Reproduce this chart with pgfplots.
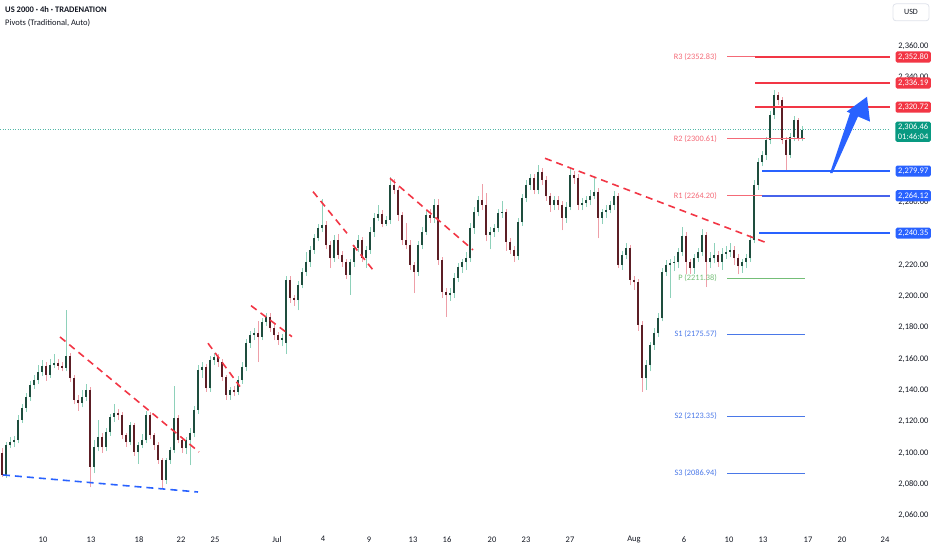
\documentclass[border=0pt]{standalone}
\usepackage{pgfplots}
\pgfplotsset{compat=1.18}
\usepackage{pgfplotstable}
\usepackage{fontspec}
\setmainfont{Carlito}
\definecolor{gbody}{HTML}{1E4D3E}
\definecolor{gwick}{HTML}{8ED1BA}
\definecolor{rbody}{HTML}{5C1E25}
\definecolor{rwick}{HTML}{EE9FA8}
\definecolor{tvred}{HTML}{F23645}
\definecolor{tvblue}{HTML}{2962FF}
\definecolor{tvgreen}{HTML}{089981}
\definecolor{pivr}{HTML}{F46A77}
\definecolor{pivp}{HTML}{74BE77}
\definecolor{pivs}{HTML}{4A78E8}
\definecolor{txt}{HTML}{131722}
\definecolor{bordergray}{HTML}{E0E3EB}

\pgfplotstableread{
x o h l c
6 2085.9 2107 2084 2105.0
10 2105.0 2110 2103 2106.9
14 2106.9 2111 2104 2108.2
18 2108.2 2124 2106 2121.0
22 2121.0 2131 2119 2128.7
26 2128.7 2138 2126 2135.7
30 2135.7 2146 2133 2143.3
34 2143.3 2150 2141 2146.5
38 2146.5 2156 2144 2151.6
42 2151.6 2159 2149 2155.5
50 2149.7 2160 2148 2156.1
54 2156.1 2163 2154 2157.4
66 2154.2 2191 2152 2161.9
82 2131.8 2140 2129 2135.7
86 2135.7 2144 2133 2140.2
94 2091.0 2108 2087 2103.7
98 2103.7 2121 2101 2110.1
106 2103.7 2116 2101 2113.3
110 2113.3 2125 2111 2122.9
114 2122.9 2131 2120 2125.5
130 2106.9 2120 2105 2117.8
138 2100.6 2107 2093 2105.0
142 2105.0 2112 2103 2108.2
146 2108.2 2127 2106 2124.2
166 2082.7 2097 2080 2095.4
170 2095.4 2104 2093 2101.8
174 2101.8 2143 2100 2122.3
186 2103.1 2110 2099 2108.2
190 2108.2 2116 2092 2112.7
194 2112.7 2130 2110 2127.4
198 2127.4 2156 2125 2152.9
202 2152.9 2158 2148 2154.8
210 2141.4 2162 2139 2159.3
214 2159.3 2164 2156 2161.2
230 2137.0 2142 2134 2140.2
238 2138.9 2149 2137 2146.5
242 2146.5 2158 2144 2154.8
246 2154.8 2173 2152 2170.2
250 2170.2 2178 2167 2175.3
254 2175.3 2180 2172 2176.5
262 2174.0 2186 2172 2183.6
266 2183.6 2189 2181 2186.8
282 2172.1 2176 2168 2173.4
286 2170.2 2213 2163 2210.4
298 2197.6 2210 2191 2207.2
302 2207.2 2218 2205 2215.5
306 2215.5 2228 2213 2221.9
310 2221.9 2232 2219 2229.6
314 2229.6 2240 2227 2237.2
318 2237.2 2246 2235 2243.6
322 2243.6 2262 2241 2245.5
334 2224.4 2239 2222 2235.9
350 2213.6 2224 2201 2221.9
354 2221.9 2233 2219 2230.8
358 2230.8 2239 2228 2235.9
366 2224.4 2232 2218 2229.6
370 2229.6 2244 2227 2241.0
374 2241.0 2253 2238 2250.0
378 2250.0 2258 2248 2252.5
386 2246.2 2251 2245 2248.7
390 2248.7 2276 2246 2271.1
418 2215.5 2235 2213 2232.7
422 2232.7 2244 2230 2241.0
426 2241.0 2255 2239 2251.9
434 2250.0 2262 2247 2258.3
450 2200.8 2205 2197 2202.1
454 2202.1 2215 2199 2211.7
458 2211.7 2221 2209 2218.7
462 2218.7 2224 2215 2221.9
466 2221.9 2228 2217 2224.4
470 2224.4 2247 2222 2243.6
474 2243.6 2257 2240 2253.8
478 2253.8 2264 2251 2261.5
490 2239.1 2244 2230 2241.0
494 2241.0 2246 2238 2243.6
498 2243.6 2256 2241 2253.2
502 2253.2 2261 2250 2253.8
518 2225.7 2250 2223 2247.4
522 2247.4 2265 2245 2262.8
526 2262.8 2274 2260 2271.1
530 2271.1 2278 2268 2275.5
538 2267.9 2284 2265 2279.4
554 2258.3 2264 2255 2261.5
566 2250.0 2260 2247 2257.0
570 2257.0 2281 2255 2277.4
582 2258.3 2263 2255 2259.6
586 2259.6 2264 2257 2261.5
590 2261.5 2268 2258 2264.0
594 2264.0 2276 2262 2266.6
602 2250.0 2256 2246 2253.8
606 2253.8 2258 2250 2255.1
610 2255.1 2261 2253 2258.3
614 2258.3 2267 2255 2264.0
622 2220.0 2229 2217 2226.4
626 2226.4 2234 2224 2230.8
646 2147.8 2159 2140 2156.1
650 2156.1 2171 2152 2168.9
654 2168.9 2180 2166 2176.5
658 2176.5 2189 2174 2186.1
662 2186.1 2218 2184 2215.5
666 2215.5 2223 2213 2220.0
670 2220.0 2224 2199 2221.3
674 2221.3 2226 2216 2221.9
678 2221.9 2231 2218 2228.3
682 2228.3 2244 2226 2238.5
694 2218.1 2227 2214 2224.4
698 2224.4 2231 2222 2228.3
702 2228.3 2243 2226 2239.1
710 2221.9 2228 2218 2224.4
714 2224.4 2234 2221 2226.4
722 2221.9 2231 2217 2227.0
726 2227.0 2232 2224 2228.3
730 2228.3 2234 2225 2229.6
742 2219.3 2224 2215 2221.9
746 2221.9 2227 2218 2224.4
750 2224.4 2239 2222 2235.9
754 2235.9 2274 2234 2271.1
758 2271.1 2288 2268 2285.7
762 2285.7 2293 2283 2290.2
766 2290.2 2302 2287 2299.8
770 2299.8 2318 2297 2315.8
774 2315.8 2331.7 2313 2328.5
790 2290.2 2304 2288 2301.7
794 2301.7 2315 2299 2312.6
802 2301.1 2309 2299 2306.46
}\up

\pgfplotstableread{
x o h l c
2 2099.9 2103 2084.5 2085.9
46 2155.5 2158 2146 2149.7
58 2157.4 2160 2153 2155.5
62 2155.5 2158 2152 2154.2
70 2161.9 2164 2145 2147.8
74 2147.8 2150 2131 2133.8
78 2133.8 2137 2127 2131.8
90 2140.2 2142 2078 2091.0
102 2110.1 2113 2100 2103.7
118 2125.5 2128 2121 2124.2
122 2124.2 2126 2109 2111.4
126 2111.4 2113 2104 2106.9
134 2117.8 2119 2098 2100.6
150 2124.2 2126 2109 2111.4
154 2111.4 2113 2102 2105.0
158 2105.0 2107 2093 2095.4
162 2095.4 2097 2077.6 2082.7
178 2122.3 2124 2106 2108.2
182 2108.2 2110 2100 2103.1
206 2154.8 2157 2139 2141.4
218 2161.2 2163 2155 2158.0
222 2158.0 2160 2146 2148.5
226 2148.5 2150 2134 2137.0
234 2140.2 2143 2136 2138.9
258 2176.5 2184 2158 2174.0
270 2186.8 2189 2177 2179.7
274 2179.7 2182 2172 2175.3
278 2175.3 2177 2169 2172.1
290 2210.4 2213 2196 2198.9
294 2198.9 2201 2194 2197.6
326 2245.5 2248 2230 2232.7
330 2232.7 2235 2218 2224.4
338 2235.9 2240 2224 2226.4
342 2226.4 2229 2219 2221.9
346 2221.9 2224 2211 2213.6
362 2235.9 2238 2222 2224.4
382 2252.5 2255 2244 2246.2
394 2271.1 2275 2265 2267.9
398 2267.9 2270 2248 2251.9
402 2251.9 2254 2233 2235.9
406 2235.9 2247 2230 2232.7
410 2232.7 2236 2217 2220.0
414 2220.0 2222 2202 2215.5
430 2251.9 2256 2247 2250.0
438 2258.3 2262 2220 2223.2
442 2223.2 2225 2199 2202.7
446 2202.7 2205 2187 2200.8
482 2261.5 2272 2255 2258.3
486 2258.3 2266 2235 2239.1
506 2253.8 2256 2229 2234.7
510 2234.7 2237 2227 2229.6
514 2229.6 2232 2222 2225.7
534 2275.5 2278 2265 2267.9
542 2279.4 2282 2271 2274.3
546 2274.3 2277 2261 2264.0
550 2264.0 2266 2254 2258.3
558 2261.5 2264 2255 2258.3
562 2258.3 2261 2242 2250.0
574 2277.4 2280 2272 2275.5
578 2275.5 2278 2255 2258.3
598 2266.6 2269 2237 2250.0
618 2264.0 2266 2218 2220.0
630 2230.8 2233 2207 2210.4
634 2210.4 2213 2204 2209.1
638 2209.1 2211 2178 2181.7
642 2181.7 2184 2138.9 2147.8
686 2238.5 2241 2214 2221.9
690 2221.9 2224 2214 2218.1
706 2239.1 2241 2205.9 2221.9
718 2226.4 2229 2219 2221.9
734 2229.6 2232 2220 2224.4
738 2224.4 2227 2214 2219.3
778 2328.5 2330.5 2322 2325.3
782 2325.3 2327 2297 2299.8
786 2299.8 2302 2279.4 2290.2
798 2312.6 2314 2299 2301.1
}\down

\begin{document}
\begin{tikzpicture}
\path[use as bounding box] (0pt,-25pt) rectangle (932pt,525pt);
\begin{axis}[
  at={(0pt,0pt)}, anchor=south west,
  scale only axis, width=888pt, height=525pt,
  xmin=0, xmax=888, ymin=2053.93, ymax=2389.18,
  clip=false,
  axis line style={draw=none},
  major tick length=0pt,
  xtick={43,91,139,181,215,277,323,369,413,447,492,526,570,634,684,729,763,808,842,885},
  xticklabels={10,13,18,22,25,Jul,4,9,13,16,20,23,27,Aug,6,10,13,17,20,24},
  ytick={2060,2080,2100,2120,2140,2160,2180,2200,2220,2260,2340,2360},
  yticklabels={{2,060.00},{2,080.00},{2,100.00},{2,120.00},{2,140.00},{2,160.00},{2,180.00},{2,200.00},{2,220.00},{2,260.00},{2,340.00},{2,360.00}},
  yticklabel pos=right,
  yticklabel style={anchor=east, xshift=44pt},
  xticklabel style={yshift=-8pt},
  ticklabel style={font=\fontsize{8.5}{10}\selectfont, text=txt},
  /pgf/number format/assume math mode=true,
  candle/.style={draw=none, no markers, forget plot, error bars/y dir=plus, error bars/y explicit, error bars/error mark=none},
]
% current price dotted line
\addplot[tvgreen!70, line width=0.6pt, dash pattern=on 1pt off 1.5pt] coordinates {(0,2306.46) (888,2306.46)};
% candles: wicks
\addplot[candle, error bars/error bar style={draw=gwick, line width=0.7pt, solid}]
  table[x=x, y=l, y error plus expr=\thisrow{h}-\thisrow{l}] {\up};
\addplot[candle, error bars/error bar style={draw=rwick, line width=0.7pt, solid}]
  table[x=x, y=l, y error plus expr=\thisrow{h}-\thisrow{l}] {\down};
% bodies
\addplot[candle, error bars/error bar style={draw=gbody, line width=2.6pt, solid}]
  table[x=x, y=o, y error plus expr=\thisrow{c}-\thisrow{o}] {\up};
\addplot[candle, error bars/error bar style={draw=rbody, line width=2.6pt, solid}]
  table[x=x, y=c, y error plus expr=\thisrow{o}-\thisrow{c}] {\down};
% trend lines
\addplot[tvred, line width=1.6pt, dash pattern=on 7pt off 5pt] coordinates {(60,2174.0) (199,2100.6)};
\addplot[tvred, line width=1.6pt, dash pattern=on 7pt off 5pt] coordinates {(208,2170.0) (240,2142.3)};
\addplot[tvred, line width=1.6pt, dash pattern=on 7pt off 5pt] coordinates {(251,2194.0) (292,2174.2)};
\addplot[tvred, line width=1.6pt, dash pattern=on 7pt off 5pt] coordinates {(313,2266.8) (347,2240.2)};
\addplot[tvred, line width=1.6pt, dash pattern=on 7pt off 5pt] coordinates {(353,2232.7) (373,2216.8)};
\addplot[tvred, line width=1.6pt, dash pattern=on 7pt off 5pt] coordinates {(390,2275.3) (473,2229.6)};
\addplot[tvred, line width=1.6pt, dash pattern=on 7pt off 5pt] coordinates {(545,2288.1) (768,2233.8)};
\addplot[tvblue, line width=1.6pt, dash pattern=on 7pt off 5pt] coordinates {(3,2085.9) (198,2075.0)};
% pivot lines
\addplot[pivr, line width=0.9pt] coordinates {(727,2352.83) (805,2352.83)};
\addplot[pivr, line width=0.9pt] coordinates {(727,2300.61) (805,2300.61)};
\addplot[pivr, line width=0.9pt] coordinates {(727,2264.20) (805,2264.20)};
\addplot[pivp, line width=0.9pt] coordinates {(727,2211.38) (805,2211.38)};
\addplot[pivs, line width=0.9pt] coordinates {(727,2175.57) (805,2175.57)};
\addplot[pivs, line width=0.9pt] coordinates {(727,2123.35) (805,2123.35)};
\addplot[pivs, line width=0.9pt] coordinates {(727,2086.94) (805,2086.94)};
% key levels
\addplot[tvred, line width=1.8pt] coordinates {(755,2352.80) (890,2352.80)};
\addplot[tvred, line width=1.8pt] coordinates {(755,2336.19) (890,2336.19)};
\addplot[tvred, line width=1.8pt] coordinates {(755,2320.72) (890,2320.72)};
\addplot[tvblue, line width=1.8pt] coordinates {(762,2279.97) (890,2279.97)};
\addplot[tvblue!85!pivr, line width=1.8pt] coordinates {(762,2264.12) (890,2264.12)};
\addplot[tvblue, line width=1.8pt] coordinates {(759,2240.35) (890,2240.35)};
% arrow
\fill[tvblue] (axis cs:830,2278.7) -- (axis cs:850,2317.0) -- (axis cs:846.7,2317.9) -- (axis cs:867,2327.4) -- (axis cs:870,2311.5) -- (axis cs:858,2314.8) -- (axis cs:832.5,2278.7) -- cycle;
% pivot labels
\begin{scope}[every node/.style={anchor=east, font=\fontsize{8.3}{9.5}\selectfont, inner sep=1pt}]
\node[text=pivr] at (axis cs:718,2352.83) {R3 (2352.83)};
\node[text=pivr] at (axis cs:718,2300.61) {R2 (2300.61)};
\node[text=pivr] at (axis cs:718,2264.20) {R1 (2264.20)};
\node[text=pivp] at (axis cs:718,2211.38) {P (2211.38)};
\node[text=pivs] at (axis cs:718,2175.57) {S1 (2175.57)};
\node[text=pivs] at (axis cs:718,2123.35) {S2 (2123.35)};
\node[text=pivs] at (axis cs:718,2086.94) {S3 (2086.94)};
\end{scope}
% price boxes
\begin{scope}[every node/.style={anchor=east, text=white, font=\fontsize{8.5}{10}\selectfont, inner xsep=2.5pt, inner ysep=2.2pt, rounded corners=1.5pt}]
\node[fill=tvred] at (axis cs:931,2352.80) {2,352.80};
\node[fill=tvred] at (axis cs:931,2336.19) {2,336.19};
\node[fill=tvred] at (axis cs:931,2320.72) {2,320.72};
\node[fill=tvblue] at (axis cs:931,2279.97) {2,279.97};
\node[fill=tvblue] at (axis cs:931,2264.12) {2,264.12};
\node[fill=tvblue] at (axis cs:931,2240.35) {2,240.35};
\node[fill=tvgreen, anchor=north east, align=center] at (axis cs:931,2311.6) {2,306.46\\01:46:04};
\end{scope}
% header
\node[anchor=west, text=txt, font=\bfseries\fontsize{8.5}{10}\selectfont, inner sep=0pt] at (axis cs:5,2382.8) {US 2000 · 4h · TRADENATION};
\node[anchor=west, text=txt, font=\fontsize{8.5}{10}\selectfont, inner sep=0pt] at (axis cs:5,2374.5) {Pivots (Traditional, Auto)};
\node[draw=bordergray, line width=0.8pt, rounded corners=3pt, minimum width=36pt, minimum height=17pt, text=txt, font=\fontsize{8}{9}\selectfont, fill=white] at (axis cs:911,2381.3) {USD};
\end{axis}
\end{tikzpicture}
\end{document}
